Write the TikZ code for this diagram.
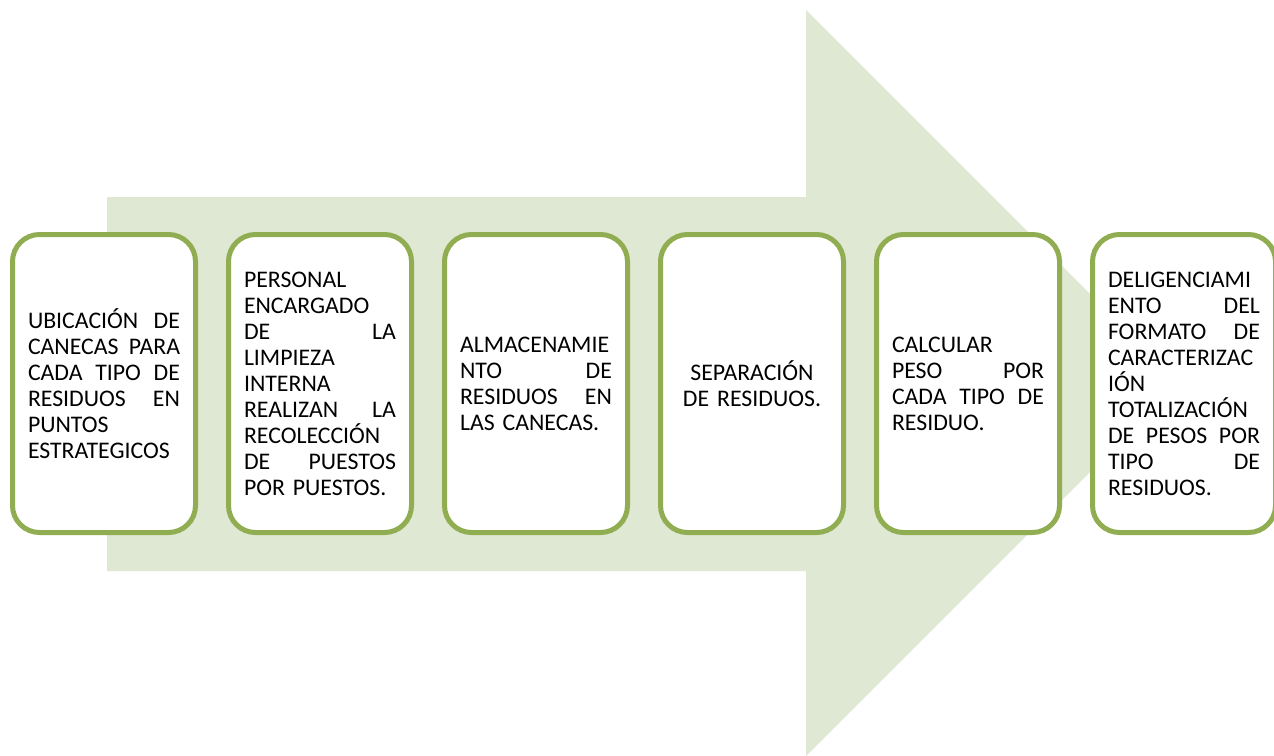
\documentclass[tikz,border=0pt]{standalone}
\usepackage{fontspec}
\setmainfont{Carlito}
\usepackage{tikz}
\usetikzlibrary{positioning}

\definecolor{verdeflecha}{RGB}{223,232,211}
\definecolor{verdeborde}{RGB}{145,173,82}

\tikzset{
  paso/.style={draw=verdeborde, line width=5pt, fill=white, rounded corners=27pt,
    minimum width=183pt, minimum height=298pt, text width=152pt, inner sep=0pt,
    align=left, font=\fontsize{23.8}{26}\selectfont}
}

\begin{document}
\begin{tikzpicture}[x=1pt, y=-1pt]
  \useasboundingbox (0,0) rectangle (1274,755);

  % flecha de fondo
  \fill[verdeflecha] (107,197) -- (806,197) -- (806,10) -- (1179,383)
    -- (806,756) -- (806,571) -- (107,571) -- cycle;

  % pasos del proceso
  \foreach \i/\txt in {
    0/{UBICACIÓN \hfill DE\\CANECAS \hfill PARA\\CADA \hfill TIPO \hfill DE\\RESIDUOS \hfill EN\\PUNTOS\\ESTRATEGICOS},
    1/{PERSONAL\\ENCARGADO\\DE \hfill LA\\LIMPIEZA\\INTERNA\\REALIZAN \hfill LA\\RECOLECCIÓN\\DE \hfill PUESTOS\\POR PUESTOS.},
    2/{ALMACENAMIE\\NTO \hfill DE\\RESIDUOS \hfill EN\\LAS CANECAS.},
    3/{\makebox[152pt]{SEPARACIÓN}\\\makebox[152pt]{DE RESIDUOS.}},
    4/{CALCULAR\\PESO \hfill POR\\CADA \hfill TIPO \hfill DE\\RESIDUO.},
    5/{DELIGENCIAMI\\ENTO \hfill DEL\\FORMATO \hfill DE\\CARACTERIZAC\\IÓN\\TOTALIZACIÓN\\DE \hfill PESOS \hfill POR\\TIPO \hfill DE\\RESIDUOS.}} {
    \node[paso] (paso\i) at (104+\i*216, 383.5) {\txt};
  }
\end{tikzpicture}
\end{document}
